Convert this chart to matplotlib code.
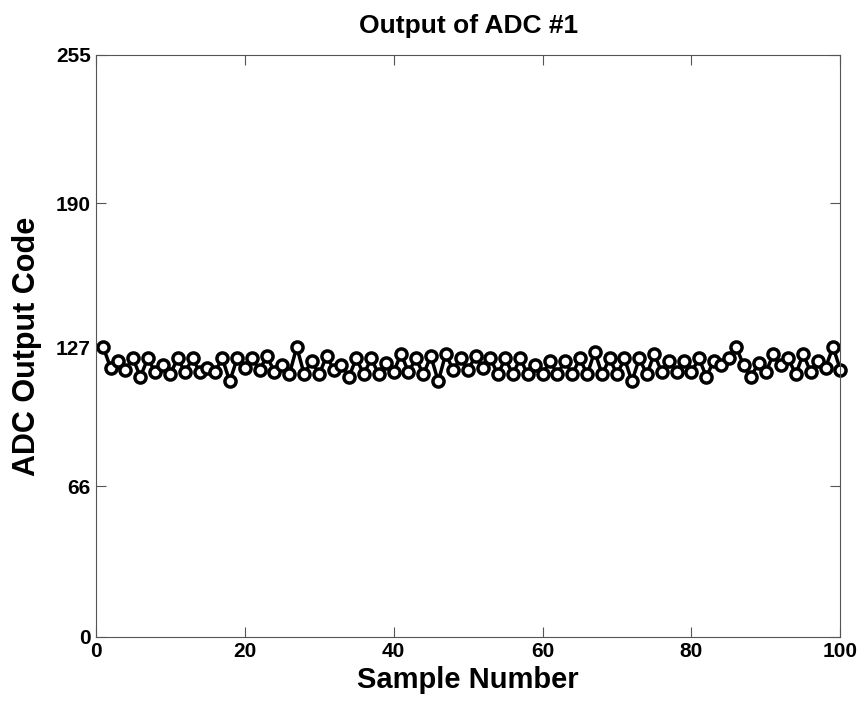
import matplotlib
matplotlib.use('Agg')
import matplotlib.pyplot as plt

samples = list(range(1, 101))
codes = [127, 118, 121, 117, 122, 114, 122, 116, 119, 115,
         122, 116, 122, 116, 118, 116, 122, 112, 122, 118,
         122, 117, 123, 116, 119, 115, 127, 115, 121, 115,
         123, 117, 119, 114, 122, 115, 122, 115, 120, 116,
         124, 116, 122, 115, 123, 112, 124, 117, 122, 117,
         123, 118, 122, 115, 122, 115, 122, 115, 119, 115,
         121, 115, 121, 115, 122, 115, 125, 115, 122, 115,
         122, 112, 122, 115, 124, 116, 121, 116, 121, 116,
         122, 114, 121, 119, 122, 127, 119, 114, 120, 116,
         124, 119, 122, 115, 124, 116, 121, 118, 127, 117]
yticks = [0, 66, 127, 190, 255]
xticks = [0, 20, 40, 60, 80, 100]

plt.rcParams['font.family'] = ['Liberation Sans', 'DejaVu Sans']
plt.rcParams['font.weight'] = 'bold'

fig = plt.figure(figsize=(8.62, 7.03), dpi=100)
ax = fig.add_axes([0.111, 0.094, 0.864, 0.828])
ax.plot(samples, codes, color='black', linewidth=2.5, marker='o', markersize=8,
        markerfacecolor='white', markeredgewidth=2.5, clip_on=False)
ax.set_xlim(0, 100)
ax.set_ylim(0, 255)
ax.set_xticks(xticks)
ax.set_yticks(yticks)
ax.tick_params(direction='in', length=7, top=True, right=True, labelsize=15, color='#555555')
for s in ax.spines.values():
    s.set_color('#555555')
ax.set_title('Output of ADC #1', fontsize=19, fontweight='bold', pad=16)
ax.set_xlabel('Sample Number', fontsize=21, fontweight='bold', labelpad=4)
ax.set_ylabel('ADC Output Code', fontsize=22, fontweight='bold', labelpad=10)

fig.savefig('out.png', dpi=100)
